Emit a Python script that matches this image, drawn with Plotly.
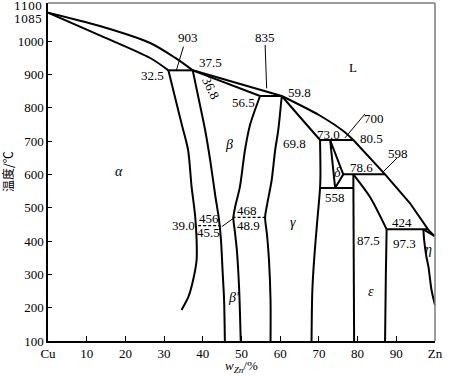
import plotly.graph_objects as go

# ---------------- data (w_Zn %, temperature °C) ----------------
liq1_zn = [0, 13.4, 26.4, 32.8, 37.4]
liq1_t = [1085, 1045, 994, 950, 912]
liq2_zn = [37.4, 60.4]
liq2_t = [912, 835]
liq3_zn = [60.4, 70.0, 76.3, 78.9]
liq3_t = [835, 778, 730, 703]
liq4_zn = [78.9, 87.1, 93.5, 98.2, 99.8]
liq4_t = [703, 600, 514, 435, 415]

sol_a_zn = [0, 13.4, 26.4, 31.1]
sol_a_t = [1085, 1017, 949, 912]

alpha_zn = [31.1, 33.0, 34.6, 36.2, 37.1, 38.0, 38.4, 38.4, 37.5, 36.3, 34.5]
alpha_t = [912, 823, 748, 673, 563, 478, 403, 343, 283, 233, 193]

beta_l_zn = [37.4, 39.0, 40.6, 41.9, 43.2, 44.2, 44.7, 45.1, 45.5, 45.7]
beta_l_t = [912, 823, 733, 643, 538, 463, 403, 313, 223, 100]

beta_sol_zn = [37.4, 54.8]
beta_sol_t = [912, 835]

beta_r_zn = [54.8, 52.2, 50.9, 49.6, 48.3, 47.9, 48.3, 48.8, 49.4, 49.8]
beta_r_t = [835, 748, 673, 563, 499, 469, 427, 373, 253, 100]

gamma_l_zn = [60.4, 59.5, 58.7, 57.8, 56.6, 56.1, 56.6, 57.1, 57.5, 57.5]
gamma_l_t = [835, 733, 673, 583, 508, 471, 418, 343, 223, 100]

gamma_sol_zn = [60.4, 65.1, 70.3]
gamma_sol_t = [835, 772, 703]

gamma_r_zn = [70.3, 70.4, 70.3, 69.5, 68.8, 68.3, 68.1]
gamma_r_t = [703, 600, 559, 450, 350, 250, 100]

delta_zn = [74.2, 72.9, 76.3, 74.2]
delta_t = [559, 703, 600, 559]

eps_l_zn = [78.9, 79.1]
eps_l_t = [600, 100]
eps_sol_zn = [78.9, 83.2, 87.5]
eps_sol_t = [600, 532, 435]
eps_r_zn = [87.5, 87.3, 87.1]
eps_r_t = [435, 300, 100]

eta_sol_zn = [97.0, 99.8]
eta_sol_t = [435, 415]
eta_zn = [97.0, 97.2, 97.7, 98.3, 99.1, 100]
eta_t = [435, 403, 358, 323, 253, 208]

# isotherms (start, end, temperature)
iso_903 = [31.1, 37.4, 912]
iso_835 = [54.8, 60.4, 835]
iso_700 = [70.3, 78.9, 703]
iso_598 = [76.3, 87.1, 600]
iso_558 = [70.3, 78.9, 559]
iso_424 = [87.5, 98.2, 435]
iso_456 = [38.8, 44.6, 446]
iso_468 = [47.7, 56.1, 471]
order_zn = [44.9, 47.9]
order_t = [443, 468]

# leader lines
lead_903 = ([35.0, 33.2], [983, 913])
lead_835 = ([56.1, 56.5], [988, 858])
lead_700 = ([76.7, 81.9], [709, 781])
lead_598 = ([86.3, 90.2], [604, 649])

# labels: text, w_Zn, T
label_text = ["903", "37.5", "32.5", "835", "56.5", "59.8", "L", "700", "73.0", "80.5",
              "69.8", "598", "78.6", "558", "424", "98.3", "87.5", "97.3",
              "39.0", "456", "45.5", "468", "48.9"]
label_zn = [36.2, 41.9, 26.9, 56.1, 50.5, 65.1, 78.8, 84.2, 72.4, 83.5,
            63.8, 90.4, 80.9, 74.2, 91.5, 100.5, 82.7, 92.0,
            34.9, 41.6, 41.6, 51.4, 51.9]
label_t = [1012, 937, 898, 1012, 817, 847, 922, 769, 721, 709,
           694, 664, 622, 532, 457, 481, 403, 394,
           448, 469, 427, 493, 448]

phase_text = ["α", "β", "γ", "δ", "ε", "η", "β′"]
phase_zn = [18.3, 46.8, 63.3, 74.9, 83.5, 98.4, 48.1]
phase_t = [610, 691, 457, 607, 250, 376, 232]

x_ticks = [0, 10, 20, 30, 40, 50, 60, 70, 80, 90, 100]
x_ticktext = ["Cu", "10", "20", "30", "40", "50", "60", "70", "80", "90", "Zn"]
y_ticks = [100, 200, 300, 400, 500, 600, 700, 800, 900, 1000]
y_extra_text = ["1100", "1085"]
y_extra_pos = [1103, 1065]

SERIF = "Times New Roman, Liberation Serif, serif"

fig = go.Figure()


def add_line(xs, ys, width=2.0, dash="solid", shape="linear"):
    fig.add_trace(go.Scatter(x=xs, y=ys, mode="lines",
                             line=dict(color="black", width=width, dash=dash, shape=shape, smoothing=0.8),
                             hoverinfo="skip", showlegend=False))


add_line(liq1_zn, liq1_t, shape="spline")
add_line(liq2_zn, liq2_t)
add_line(liq3_zn, liq3_t, shape="spline")
add_line(liq4_zn, liq4_t)
add_line(sol_a_zn, sol_a_t, shape="spline")
add_line(alpha_zn, alpha_t, shape="spline")
add_line(beta_l_zn, beta_l_t, shape="spline")
add_line(beta_sol_zn, beta_sol_t)
add_line(beta_r_zn, beta_r_t, shape="spline")
add_line(gamma_l_zn, gamma_l_t, shape="spline")
add_line(gamma_sol_zn, gamma_sol_t, shape="spline")
add_line(gamma_r_zn, gamma_r_t, shape="spline")
add_line(delta_zn, delta_t)
add_line(eps_l_zn, eps_l_t)
add_line(eps_sol_zn, eps_sol_t, shape="spline")
add_line(eps_r_zn, eps_r_t, shape="spline")
add_line(eta_sol_zn, eta_sol_t)
add_line(eta_zn, eta_t, shape="spline")

for iso in [iso_903, iso_835, iso_700, iso_598, iso_558, iso_424]:
    add_line([iso[0], iso[1]], [iso[2], iso[2]])
for iso in [iso_456, iso_468]:
    add_line([iso[0], iso[1]], [iso[2], iso[2]], width=1.2, dash="3px,2px")
add_line(order_zn, order_t, width=1.0)
for lx, ly in [lead_903, lead_835, lead_700, lead_598]:
    add_line(lx, ly, width=1.0)

annotations = []
for t, x, y in zip(label_text, label_zn, label_t):
    annotations.append(dict(x=x, y=y, xref="x", yref="y", text=t, showarrow=False,
                            xanchor="center", yanchor="middle",
                            font=dict(family=SERIF, size=13, color="black")))
annotations.append(dict(x=42.1, y=857, xref="x", yref="y", text="36.8", showarrow=False,
                        xanchor="center", yanchor="middle",
                        textangle=64, font=dict(family=SERIF, size=13, color="black")))
for t, x, y in zip(phase_text, phase_zn, phase_t):
    annotations.append(dict(x=x, y=y, xref="x", yref="y", text="<i>" + t + "</i>", showarrow=False,
                            xanchor="center", yanchor="middle",
                            font=dict(family=SERIF, size=14, color="black")))
for t, y in zip(y_extra_text, y_extra_pos):
    annotations.append(dict(x=0, y=y, xref="paper", yref="y", text=t, showarrow=False,
                            xanchor="right", yanchor="middle", xshift=-4,
                            font=dict(family="DejaVu Serif", size=11, color="black")))
annotations.append(dict(x=0, y=607, xref="paper", yref="y", text="温度/℃", showarrow=False,
                        xanchor="center", yanchor="middle",
                        textangle=-90, xshift=-41,
                        font=dict(family="Noto Sans CJK SC", size=12, color="black")))
annotations.append(dict(x=49.9, y=0, xref="x", yref="paper", text="<i>w</i><sub><i>Zn</i></sub>/%",
                        showarrow=False, xanchor="center", yanchor="middle", yshift=-25,
                        font=dict(family=SERIF, size=13, color="black")))

shapes = [
    dict(type="line", xref="paper", yref="paper", x0=0, x1=1, y0=1, y1=1,
         line=dict(color="#7a7a7a", width=1.5)),
    dict(type="line", xref="paper", yref="paper", x0=1, x1=1, y0=0, y1=1,
         line=dict(color="#7a7a7a", width=1.5)),
]

fig.update_layout(
    width=450, height=376,
    margin=dict(l=48, r=15, t=3, b=35),
    paper_bgcolor="white", plot_bgcolor="white",
    annotations=annotations, shapes=shapes,
    xaxis=dict(range=[0, 100], tickvals=x_ticks, ticktext=x_ticktext,
               ticks="inside", ticklen=5, tickcolor="black", tickwidth=1,
               showline=True, linecolor="black", linewidth=1.5, showgrid=False, zeroline=False,
               tickfont=dict(family=SERIF, size=13, color="black")),
    yaxis=dict(range=[100, 1114], tickvals=y_ticks,
               ticks="inside", ticklen=4, tickcolor="black", tickwidth=1,
               showline=True, linecolor="black", linewidth=1.5, showgrid=False, zeroline=False,
               tickfont=dict(family=SERIF, size=13, color="black")),
)

fig.write_html("out.html", config={"displayModeBar": False},
               post_script="document.body.style.margin='0';")
